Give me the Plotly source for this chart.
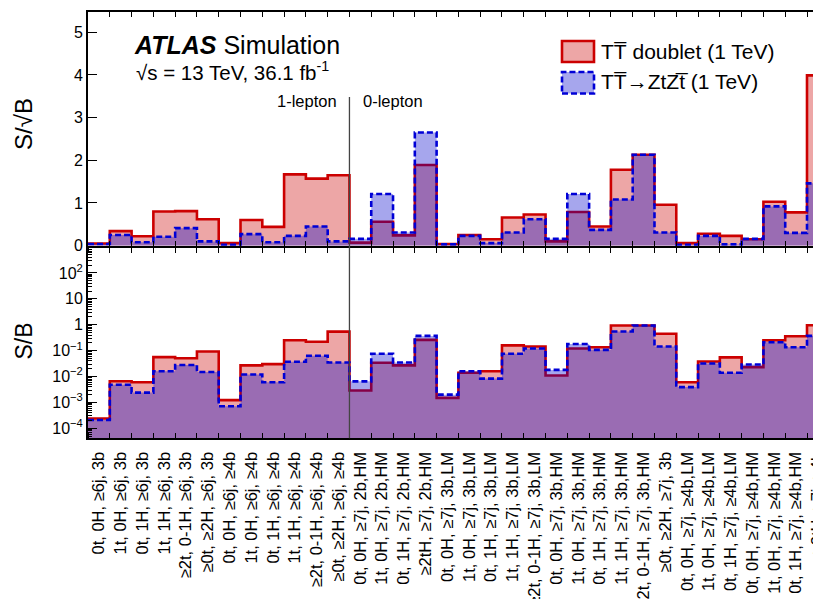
import plotly.graph_objects as go

# ---------------- data ----------------
categories = [
    "0t, 0H, ≥6j, 3b", "1t, 0H, ≥6j, 3b", "0t, 1H, ≥6j, 3b", "1t, 1H, ≥6j, 3b",
    "≥2t, 0-1H, ≥6j, 3b", "≥0t, ≥2H, ≥6j, 3b",
    "0t, 0H, ≥6j, ≥4b", "1t, 0H, ≥6j, ≥4b", "0t, 1H, ≥6j, ≥4b", "1t, 1H, ≥6j, ≥4b",
    "≥2t, 0-1H, ≥6j, ≥4b", "≥0t, ≥2H, ≥6j, ≥4b",
    "0t, 0H, ≥7j, 2b,HM", "1t, 0H, ≥7j, 2b,HM", "0t, 1H, ≥7j, 2b,HM", "≥2tH, ≥7j, 2b,HM",
    "0t, 0H, ≥7j, 3b,LM", "1t, 0H, ≥7j, 3b,LM", "0t, 1H, ≥7j, 3b,LM", "1t, 1H, ≥7j, 3b,LM",
    "≥2t, 0-1H, ≥7j, 3b,LM",
    "0t, 0H, ≥7j, 3b,HM", "1t, 0H, ≥7j, 3b,HM", "0t, 1H, ≥7j, 3b,HM", "1t, 1H, ≥7j, 3b,HM",
    "≥2t, 0-1H, ≥7j, 3b,HM", "≥0t, ≥2H, ≥7j, 3b",
    "0t, 0H, ≥7j, ≥4b,LM", "1t, 0H, ≥7j, ≥4b,LM", "0t, 1H, ≥7j, ≥4b,LM",
    "0t, 0H, ≥7j, ≥4b,HM", "1t, 0H, ≥7j, ≥4b,HM", "0t, 1H, ≥7j, ≥4b,HM",
    "≥2tH, ≥7j, ≥4b",
]

ssb_doublet = [0.05, 0.34, 0.22, 0.80, 0.81, 0.62, 0.06, 0.60, 0.44, 1.67, 1.57, 1.65,
               0.07, 0.56, 0.24, 1.89, 0.04, 0.25, 0.15, 0.66, 0.73, 0.10, 0.79, 0.45,
               1.78, 2.13, 0.96, 0.06, 0.28, 0.23, 0.15, 1.03, 0.78, 3.99]
ssb_ztzt = [0.04, 0.25, 0.08, 0.21, 0.41, 0.10, 0.02, 0.27, 0.08, 0.23, 0.45, 0.10,
            0.16, 1.21, 0.31, 2.65, 0.03, 0.23, 0.06, 0.31, 0.62, 0.16, 1.21, 0.37,
            1.08, 2.13, 0.31, 0.02, 0.23, 0.03, 0.16, 0.92, 0.30, 1.46]

sb_doublet = [2.4e-4, 6.6e-3, 6.0e-3, 0.056, 0.051, 0.093, 1.23e-3, 0.027, 0.030, 0.25, 0.22, 0.54,
              2.9e-3, 0.034, 0.027, 0.26, 1.5e-3, 0.014, 0.016, 0.16, 0.144, 0.011, 0.12, 0.135,
              0.93, 0.93, 0.45, 6.0e-3, 0.038, 0.055, 0.023, 0.25, 0.36, 0.96]
sb_ztzt = [2.1e-4, 4.8e-3, 2.4e-3, 0.016, 0.028, 0.015, 7.1e-4, 0.012, 6.0e-3, 0.037, 0.063, 0.035,
           6.5e-3, 0.076, 0.035, 0.37, 2.0e-3, 0.016, 8.3e-3, 0.076, 0.12, 0.018, 0.18, 0.107,
           0.55, 0.93, 0.145, 3.9e-3, 0.032, 0.014, 0.029, 0.21, 0.135, 0.37]

n_one_lepton = 12

top_ticks = [0, 1, 2, 3, 4, 5]
log_tickvals = [1e-4, 1e-3, 1e-2, 1e-1, 1, 10, 100]
log_ticktext = ["10<sup>−4</sup>", "10<sup>−3</sup>", "10<sup>−2</sup>", "10<sup>−1</sup>",
                "1", "10", "10<sup>2</sup>"]

label_doublet = "TT\u0305 doublet (1 TeV)"
label_ztzt = "TT\u0305→ZtZt\u0305 (1 TeV)"

# ---------------- layout helpers ----------------
W, H = 821, 599
OFF = 8            # page body margin offset
SY = 607 / 599     # vertical compensation of page capture


def px(x):
    return (x - OFF) / W


def py(y):
    return 1 - (y * SY - OFF) / H


FONT = "Liberation Sans, Arial, Helvetica, sans-serif"
RED = "rgb(204,0,0)"
BLUE = "rgb(0,0,214)"
RED_FILL = "rgba(204,0,0,0.35)"
BLUE_FILL = "rgba(0,0,204,0.35)"

nb = len(categories)
edges = list(range(nb + 1))
centers = [i + 0.5 for i in range(nb)]
bin_px = (807 - 88) / 33
x_end = 33 + (W + OFF - 807) / bin_px


def step(vals):
    return list(vals) + [vals[-1]]


fig = go.Figure()

for xa, ya, red_vals, blue_vals in [("x", "y", ssb_doublet, ssb_ztzt),
                                    ("x2", "y2", sb_doublet, sb_ztzt)]:
    fig.add_trace(go.Scatter(x=edges, y=step(red_vals), xaxis=xa, yaxis=ya,
                             mode="lines", line=dict(color=RED, width=2.6, shape="hv"),
                             fill="tozeroy", fillcolor=RED_FILL, showlegend=False,
                             hoverinfo="skip"))
    fig.add_trace(go.Scatter(x=edges, y=step(blue_vals), xaxis=xa, yaxis=ya,
                             mode="lines", line=dict(color=BLUE, width=2.6, shape="hv",
                                                     dash="6px,3px"),
                             fill="tozeroy", fillcolor=BLUE_FILL, showlegend=False,
                             hoverinfo="skip"))

xdom = [px(88), 1.0]
top_dom = [py(246), py(11.7)]
low_dom = [py(439), py(248)]

minor_log = [k * 10.0 ** e for e in range(-5, 3) for k in range(2, 10)]

fig.update_layout(
    width=W, height=H,
    margin=dict(l=0, r=0, t=0, b=0),
    paper_bgcolor="white", plot_bgcolor="white",
    font=dict(family=FONT, color="black"),
    showlegend=False,
    xaxis=dict(domain=xdom, anchor="y", range=[0, x_end], showline=True, linecolor="black",
               linewidth=2, mirror="ticks", tickmode="array", tickvals=edges,
               ticks="inside", ticklen=5, tickcolor="black", tickwidth=1,
               showticklabels=False, showgrid=False, zeroline=False),
    yaxis=dict(domain=top_dom, anchor="x", range=[0, 5.48], showline=True, linecolor="black",
               linewidth=2, tickmode="array", tickvals=top_ticks, ticks="inside", ticklen=9,
               tickwidth=1, tickcolor="black", showgrid=False, zeroline=False,
               tickfont=dict(size=16, family=FONT)),
    xaxis2=dict(domain=xdom, anchor="y2", range=[0, x_end], showline=True, linecolor="black",
                linewidth=2, mirror="ticks", tickmode="array", tickvals=centers,
                ticktext=categories, ticks="", tickangle=-90, ticklabelstandoff=5,
                tickfont=dict(size=16.5, family=FONT),
                minor=dict(tickmode="array", tickvals=edges, ticks="inside", ticklen=5,
                           tickcolor="black", tickwidth=1, showgrid=False),
                showgrid=False, zeroline=False, automargin=False),
    yaxis2=dict(domain=low_dom, anchor="x2", type="log", range=[-4.385, 2.975],
                showline=True, linecolor="black", linewidth=2, tickmode="array",
                tickvals=log_tickvals, ticktext=log_ticktext, ticks="inside", ticklen=9,
                tickwidth=1, tickcolor="black", showgrid=False, zeroline=False,
                tickfont=dict(size=16, family=FONT),
                minor=dict(tickmode="array", tickvals=minor_log, ticks="inside", ticklen=4,
                           tickcolor="black", tickwidth=1, showgrid=False)),
)

# separator between 1-lepton and 0-lepton channels
fig.add_shape(type="line", xref="x", yref="paper", x0=n_one_lepton, x1=n_one_lepton,
              y0=py(439), y1=py(97), line=dict(color="#444444", width=1.3))

# legend boxes
fig.add_shape(type="rect", xref="paper", yref="paper", x0=px(562), x1=px(594),
              y0=py(62), y1=py(41), fillcolor=RED_FILL, line=dict(color=RED, width=2.6))
fig.add_shape(type="rect", xref="paper", yref="paper", x0=px(562), x1=px(594),
              y0=py(93.5), y1=py(72), fillcolor=BLUE_FILL,
              line=dict(color=BLUE, width=2.6, dash="6px,3px"))


def ann(text, x, y, size, xanchor="left", yanchor="middle", angle=0):
    fig.add_annotation(text=text, xref="paper", yref="paper", x=px(x), y=py(y),
                       xanchor=xanchor, yanchor=yanchor, showarrow=False, textangle=angle,
                       font=dict(size=size, family=FONT, color="black"), borderpad=0)


ann("<b><i>ATLAS</i></b> Simulation", 133, 45, 25)
ann("√s = 13 TeV, 36.1 fb<sup>-1</sup>", 135, 71, 20.5)
ann("1-lepton", 307, 101, 16.5, xanchor="center")
ann("0-lepton", 393, 101, 16.5, xanchor="center")
ann(label_doublet, 600, 51, 21)
ann(label_ztzt, 600, 82, 21)
ann("S/√B", 24, 124, 24, xanchor="center", angle=-90)
ann("S/B", 24, 342, 23, xanchor="center", angle=-90)

fig.write_html("out.html")
